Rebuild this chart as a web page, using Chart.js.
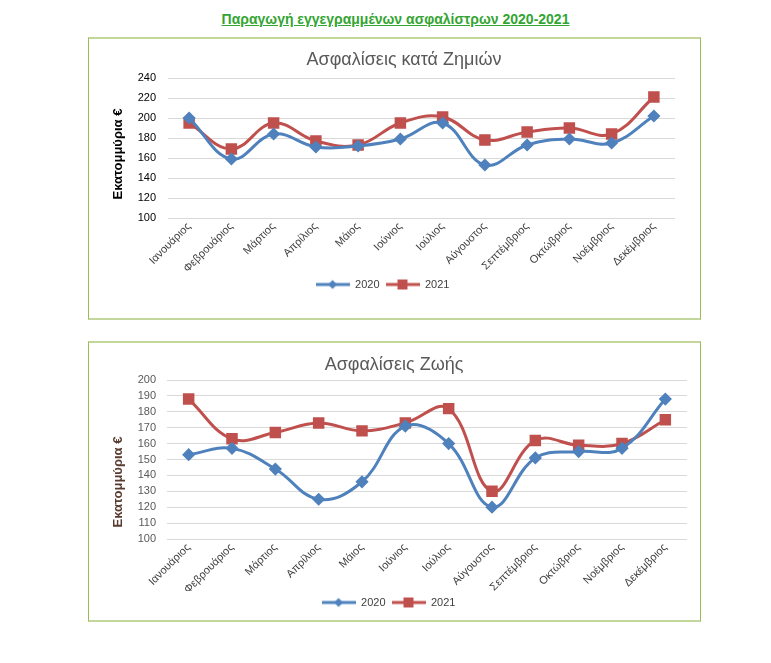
<!DOCTYPE html>
<html>
<head>
<meta charset="utf-8">
<script src="https://cdn.jsdelivr.net/npm/chart.js@4/dist/chart.umd.min.js"></script>
<style>
  html, body { margin: 0; padding: 0; background: #ffffff; }
  body { width: 771px; height: 663px; position: relative; overflow: hidden; font-family: "Liberation Sans", Arial, sans-serif; }
  #mainTitle { position: absolute; left: 89px; width: 613px; top: 11px; text-align: center; font-weight: bold; font-size: 14px; color: #33a532; text-decoration: underline; }
  .box { position: absolute; box-sizing: border-box; border-left: 1.5px solid #9bbb59; border-right: 1.5px solid #9bbb59; border-top: 2px solid #c3d69b; border-bottom: 2px solid #c3d69b; }
  canvas { position: absolute; }
</style>
</head>
<body>
<div id="mainTitle">Παραγωγή εγγεγραμμένων ασφαλίστρων 2020-2021</div>
<div class="box" style="left:88px; top:37px; width:613px; height:283px;"></div>
<div class="box" style="left:88px; top:341px; width:613px; height:281px;"></div>
<canvas id="c1" style="left:90px; top:40px;" width="609" height="277"></canvas>
<canvas id="c2" style="left:90px; top:344px;" width="609" height="275"></canvas>
<script>
const months = ['Ιανουάριος','Φεβρουάριος','Μάρτιος','Απρίλιος','Μάιος','Ιούνιος','Ιούλιος','Αύγουστος','Σεπτέμβριος','Οκτώβριος','Νοέμβριος','Δεκέμβριος'];
const seriesNames = ['2020', '2021'];
const damage2020 = [200, 159, 184, 171, 172, 179, 195, 153, 173, 179, 175, 202];
const damage2021 = [195, 169, 195, 177, 173, 195, 201, 178, 186, 190, 184, 221];
const life2020 = [153, 157, 144, 125, 136, 171, 160, 120, 151, 155, 157, 188];
const life2021 = [188, 163, 167, 173, 168, 173, 182, 130, 162, 159, 160, 175];
const damageTicks = { min: 100, max: 240, step: 20 };
const lifeTicks = { min: 100, max: 200, step: 10 };
const yAxisTitle = 'Εκατομμύρια €';

const BLUE = '#4f81bd';
const RED = '#c0504d';
const FONT = '"Liberation Sans", Arial, sans-serif';

function legendIcon(color, style) {
  const c = document.createElement('canvas');
  c.width = 34; c.height = 12;
  const g = c.getContext('2d');
  g.strokeStyle = color; g.lineWidth = 3;
  g.beginPath(); g.moveTo(0, 6); g.lineTo(34, 6); g.stroke();
  g.fillStyle = color;
  if (style === 'diamond') {
    g.beginPath(); g.moveTo(17, 1.5); g.lineTo(21.5, 6); g.lineTo(17, 10.5); g.lineTo(12.5, 6); g.closePath(); g.fill();
  } else {
    g.fillRect(12, 1, 10, 10);
  }
  return c;
}

// draws the chart title and the y-axis title at set places
const fixedTexts = {
  id: 'fixedTexts',
  afterDraw(chart, args, o) {
    const ctx = chart.ctx;
    ctx.save();
    ctx.textAlign = 'center';
    ctx.textBaseline = 'middle';
    ctx.fillStyle = '#595959';
    ctx.font = '18px ' + FONT;
    ctx.fillText(o.title, o.titleX, o.titleY);
    ctx.translate(o.yTitleX, o.yTitleY);
    ctx.rotate(-Math.PI / 2);
    ctx.fillStyle = o.yTitleColor;
    ctx.font = 'bold 13px ' + FONT;
    ctx.fillText(yAxisTitle, 0, 0);
    ctx.restore();
  }
};

function makeChart(id, title, d20, d21, tk, cfg) {
  const icons = [legendIcon(BLUE, 'diamond'), legendIcon(RED, 'square')];
  return new Chart(document.getElementById(id), {
    type: 'line',
    data: {
      labels: months,
      datasets: [
        { label: seriesNames[0], data: d20, borderColor: BLUE, backgroundColor: BLUE, borderWidth: 3,
          pointStyle: 'rectRot', pointRadius: 4.5, pointHoverRadius: 4.5, tension: 0.4 },
        { label: seriesNames[1], data: d21, borderColor: RED, backgroundColor: RED, borderWidth: 3,
          pointStyle: 'rect', pointRadius: 6, pointHoverRadius: 6, tension: 0.4 }
      ]
    },
    plugins: [fixedTexts],
    options: {
      responsive: false,
      animation: false,
      events: [],
      layout: { padding: { left: 0, right: cfg.padRight, top: cfg.padTop, bottom: cfg.padBottom } },
      plugins: {
        fixedTexts: { title: title, titleX: cfg.titleX, titleY: cfg.titleY, yTitleX: 28, yTitleY: cfg.yTitleY, yTitleColor: cfg.yTitleColor },
        title: { display: false },
        legend: {
          position: 'bottom',
          labels: {
            usePointStyle: true, pointStyleWidth: 34, boxHeight: 11, padding: 6,
            color: '#404040', font: { family: FONT, size: 11 },
            generateLabels: (chart) => chart.data.datasets.map((ds, i) => ({
              text: ds.label, pointStyle: icons[i], fillStyle: ds.borderColor, strokeStyle: ds.borderColor,
              lineWidth: 0, hidden: false, datasetIndex: i, fontColor: '#404040'
            }))
          }
        },
        tooltip: { enabled: false }
      },
      scales: {
        x: {
          offset: true,
          grid: { display: false, drawTicks: false, offset: true },
          border: { display: false },
          ticks: { autoSkip: false, minRotation: 45, maxRotation: 45, padding: 2, color: '#404040', font: { family: FONT, size: 11 } },
          afterFit: (s) => { s.height = cfg.xHeight; }
        },
        y: {
          min: tk.min, max: tk.max,
          grid: { color: '#d9d9d9', lineWidth: 1, drawTicks: false },
          border: { display: false },
          ticks: { autoSkip: false, stepSize: tk.step, padding: cfg.tickPad, color: cfg.tickColor, font: { family: FONT, size: 11 } },
          title: { display: false },
          afterFit: (s) => { s.width = cfg.yWidth; }
        }
      }
    }
  });
}

makeChart('c1', 'Ασφαλίσεις κατά Ζημιών', damage2020, damage2021, damageTicks, {
  padRight: 24, padTop: 38, padBottom: 17, xHeight: 55, titleX: 314, titleY: 20, yTitleY: 114,
  tickPad: 12, tickColor: '#000000', yTitleColor: '#000000', yWidth: 78
});
makeChart('c2', 'Ασφαλίσεις Ζωής', life2020, life2021, lifeTicks, {
  padRight: 12, padTop: 36, padBottom: 1, xHeight: 52, titleX: 304, titleY: 21, yTitleY: 138,
  tickPad: 11, tickColor: '#595959', yTitleColor: '#5a3b30', yWidth: 77
});
</script>
</body>
</html>
